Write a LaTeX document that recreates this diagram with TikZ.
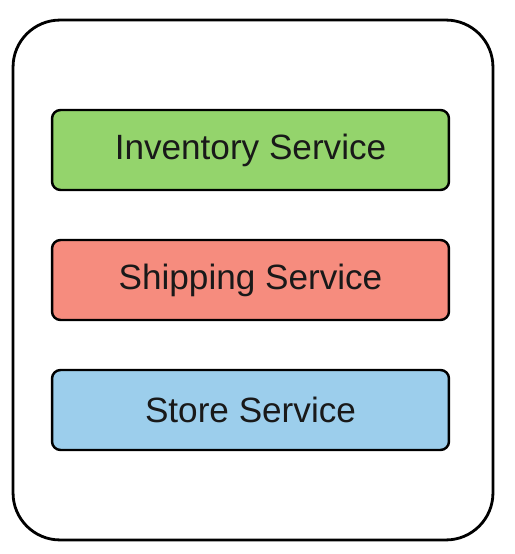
\documentclass[tikz,border=0pt]{standalone}
\usepackage{fontspec}
\setmainfont{Liberation Sans}
\usepackage{xcolor}
\usetikzlibrary{positioning}

\definecolor{invgreen}{RGB}{148,212,108}
\definecolor{shipred}{RGB}{246,140,126}
\definecolor{storeblue}{RGB}{156,206,236}
\definecolor{txtdark}{RGB}{25,25,25}

\begin{document}
\begin{tikzpicture}[
    x=0.02cm, y=-0.02cm,
    app/.style={
        draw, rounded corners=0.94cm, line width=1.6pt,
        minimum width=9.6cm, minimum height=10.4cm, inner sep=0pt
    },
    svc/.style={
        draw, rounded corners=0.17cm, line width=1.4pt,
        minimum width=7.94cm, minimum height=1.6cm,
        inner sep=0pt, align=center, text=txtdark, font=\fontsize{20}{24}\selectfont
    }
]
\useasboundingbox (0,0) rectangle (514,554);

% Outer container
\node[app] (app) at (253,280) {};

% Services, stacked top to bottom
\node[svc, fill=invgreen]  (inventory) at (250.5,150) {Inventory Service};
\node[svc, fill=shipred]   (shipping)  at (250.5,280) {Shipping Service};
\node[svc, fill=storeblue] (store)     at (250.5,410) {Store Service};

\end{tikzpicture}
\end{document}
